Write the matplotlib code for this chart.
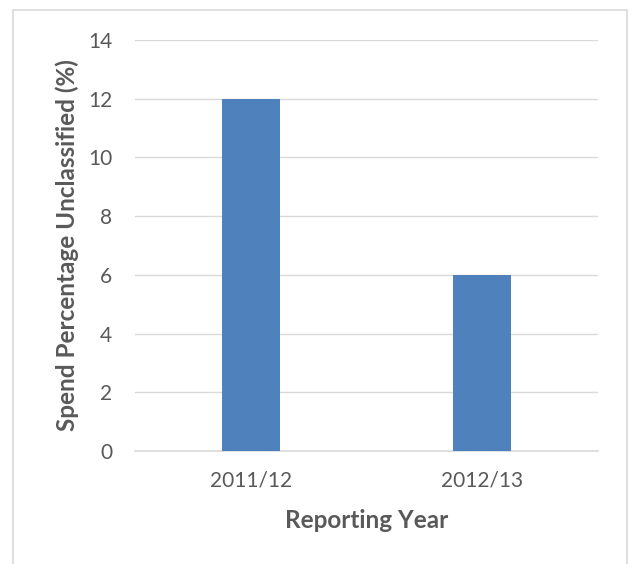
import matplotlib
matplotlib.use("Agg")
import matplotlib.pyplot as plt
from matplotlib.patches import Rectangle

years = ["2011/12", "2012/13"]
unclassified_pct = [12, 6]
y_ticks = [0, 2, 4, 6, 8, 10, 12, 14]

plt.rcParams["font.family"] = ["Lato", "DejaVu Sans"]
text_color = "#595959"
grid_color = "#d9d9d9"

fig = plt.figure(figsize=(6.3, 5.64), dpi=100)
fig.patches.append(Rectangle((13 / 630, -0.05), 614 / 630, 1.05 - 10 / 564,
                             transform=fig.transFigure, fill=False,
                             edgecolor=grid_color, linewidth=1.2))

ax = fig.add_axes([135 / 630, 1 - 451 / 564, 463 / 630, 411 / 564])
x = range(len(years))
ax.bar(x, unclassified_pct, width=0.25, color="#4f81bd", zorder=3)

ax.set_xlim(-0.5, len(years) - 0.5)
ax.set_ylim(0, 14)
ax.set_yticks(y_ticks)
ax.set_xticks(list(x))
ax.set_xticklabels(years)
ax.yaxis.grid(True, color=grid_color, linewidth=1)
ax.set_axisbelow(True)
for side in ["top", "right", "left"]:
    ax.spines[side].set_visible(False)
ax.spines["bottom"].set_color(grid_color)
ax.spines["bottom"].set_linewidth(1.2)
ax.tick_params(axis="both", length=0, labelsize=15, colors=text_color)
ax.tick_params(axis="y", pad=16.5)
ax.tick_params(axis="x", pad=14)

ax.set_xlabel("Reporting Year", fontsize=17.5, fontweight="bold", color=text_color,
              va="center")
ax.xaxis.set_label_coords(0.5, (451 - 520) / 411)
ax.set_ylabel("Spend Percentage Unclassified (%)", fontsize=17.5, fontweight="bold",
              color=text_color, va="center")
ax.yaxis.set_label_coords((67 - 135) / 463, 0.5)

fig.savefig("out.png", dpi=100)
